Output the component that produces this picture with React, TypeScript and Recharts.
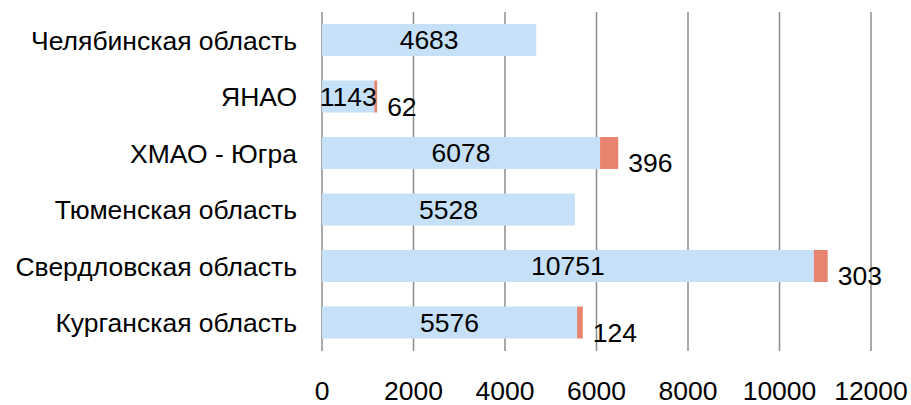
import React from 'react';
import { BarChart, Bar, XAxis, YAxis, CartesianGrid, LabelList } from 'recharts';

const categories = [
  'Челябинская область',
  'ЯНАО',
  'ХМАО - Югра',
  'Тюменская область',
  'Свердловская область',
  'Курганская область',
];
const seriesA = [4683, 1143, 6078, 5528, 10751, 5576];
const seriesB = [null, 62, 396, null, 303, 124];
const xTicks = [0, 2000, 4000, 6000, 8000, 10000, 12000];

const data = categories.map((name, i) => ({ name, a: seriesA[i], b: seriesB[i] }));

const FONT = '"Liberation Sans", Arial, sans-serif';
const FS = 26.5;

const OuterLabel = (props: any) => {
  const { x, y, width, height, value } = props;
  if (value == null || value === 0) return null;
  return (
    <text
      x={x + width + 10}
      y={y + height / 2 + 10}
      fill="#000"
      fontSize={FS}
      fontFamily={FONT}
      dominantBaseline="central"
      textAnchor="start"
    >
      {value}
    </text>
  );
};

export default function App() {
  return (
    <div style={{ position: 'absolute', left: 0, top: 0, background: '#fff' }}>
      <BarChart
        width={911}
        height={405}
        data={data}
        layout="vertical"
        margin={{ top: 12, right: 40, bottom: 0, left: 0 }}
        barSize={32}
      >
        <CartesianGrid horizontal={false} vertical={true} stroke="#8c8c8c" strokeWidth={1.5} />
        <XAxis
          type="number"
          domain={[0, 12000]}
          ticks={xTicks}
          axisLine={false}
          tickLine={false}
          tickMargin={24}
          height={54}
          interval={0}
          tick={{ fill: '#000', fontSize: FS, fontFamily: FONT }}
        />
        <YAxis
          type="category"
          dataKey="name"
          width={322}
          axisLine={false}
          tickLine={false}
          tickMargin={19}
          interval={0}
          tick={{ fill: '#000', fontSize: FS, fontFamily: FONT }}
        />
        <Bar dataKey="a" stackId="s" fill="#c6e0f8" isAnimationActive={false}>
          <LabelList
            dataKey="a"
            position="center"
            fill="#000"
            fontSize={FS}
            fontFamily={FONT}
          />
        </Bar>
        <Bar dataKey="b" stackId="s" fill="#e8836f" isAnimationActive={false}>
          <LabelList dataKey="b" content={OuterLabel} />
        </Bar>
      </BarChart>
    </div>
  );
}
